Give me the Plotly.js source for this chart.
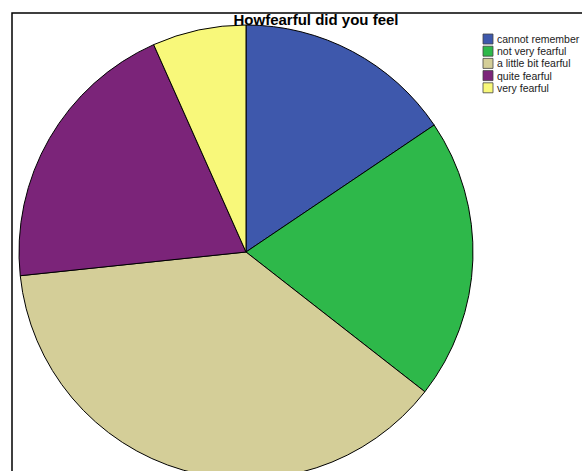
<!DOCTYPE html>
<html>
<head>
<meta charset="utf-8">
<script src="https://cdn.plot.ly/plotly-3.0.1.min.js"></script>
<style>
html,body{margin:0;padding:0;overflow:hidden;background:#fff;width:582px;height:471px;}
#chart{width:582px;height:490px;}
</style>
</head>
<body>
<div id="chart"></div>
<script>
const categories = ["cannot remember", "not very fearful", "a little bit fearful", "quite fearful", "very fearful"];
const counts = [7, 9, 17, 9, 3];
const colors = ["#3E58AC", "#2EB84A", "#D4CE98", "#7B2479", "#F8F87A"];
const chartTitle = "Howfearful did you feel";

const W = 582, H = 490;

const shapes = [{
  type: "rect", xref: "paper", yref: "paper",
  x0: 12 / W, x1: 1.05, y0: -0.05, y1: 1 - 13 / H,
  line: {color: "#000", width: 1.5}, fillcolor: "rgba(0,0,0,0)", layer: "above"
}];
const annotations = [];
categories.forEach((c, i) => {
  const yc = 39 + i * 12.2;
  shapes.push({
    type: "rect", xref: "paper", yref: "paper",
    x0: 483 / W, x1: 493 / W, y0: 1 - (yc + 5) / H, y1: 1 - (yc - 5) / H,
    fillcolor: colors[i], line: {color: "#444", width: 0.8}
  });
  annotations.push({
    xref: "paper", yref: "paper", x: 495 / W, y: 1 - yc / H,
    xanchor: "left", yanchor: "middle", showarrow: false,
    text: c, font: {family: "Liberation Sans, Arial, sans-serif", size: 10.5, color: "#222"}
  });
});

const data = [{
  type: "pie",
  labels: categories,
  values: counts,
  sort: false,
  direction: "clockwise",
  rotation: 0,
  textinfo: "none",
  hoverinfo: "label+value+percent",
  marker: {colors: colors, line: {color: "#000", width: 1}},
  domain: {x: [19 / W, 473 / W], y: [(H - 479) / H, (H - 25) / H]},
  showlegend: false
}];

const layout = {
  width: W, height: H,
  margin: {l: 0, r: 0, t: 0, b: 0},
  paper_bgcolor: "#fff",
  showlegend: false,
  title: {
    text: "<b>" + chartTitle + "</b>",
    x: 316 / W, xanchor: "center",
    y: 1 - 19.5 / H, yanchor: "middle",
    yref: "paper", xref: "paper",
    font: {family: "Liberation Sans, Arial, sans-serif", size: 15, color: "#000"}
  },
  shapes: shapes,
  annotations: annotations
};

Plotly.newPlot("chart", data, layout, {displayModeBar: false, staticPlot: true});
</script>
</body>
</html>
